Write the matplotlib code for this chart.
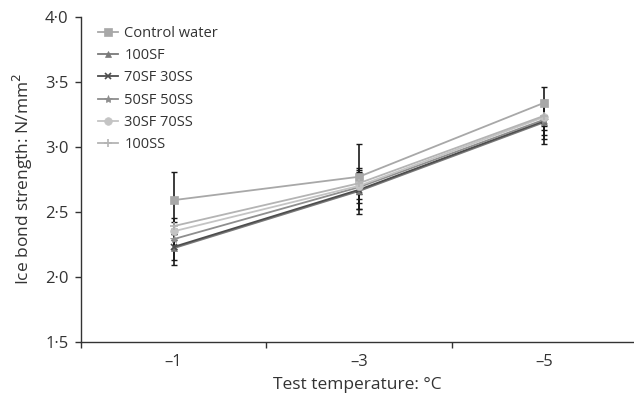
import matplotlib
matplotlib.use("Agg")
import matplotlib.pyplot as plt
import numpy as np

plt.rcParams['font.family'] = ['Open Sans', 'DejaVu Sans']

temps = ['–1', '–3', '–5']
series_names = ['Control water', '100SF', '70SF 30SS', '50SF 50SS', '30SF 70SS', '100SS']
control = [2.59, 2.77, 3.34]
sf100 = [2.22, 2.66, 3.19]
sf70ss30 = [2.23, 2.67, 3.20]
sf50ss50 = [2.29, 2.69, 3.21]
sf30ss70 = [2.35, 2.70, 3.23]
ss100 = [2.39, 2.72, 3.24]
err_control = [0.22, 0.25, 0.12]
err_sf100 = [0.13, 0.18, 0.17]
err_sf70ss30 = [0.10, 0.15, 0.14]
err_sf50ss50 = [0.08, 0.12, 0.12]
err_sf30ss70 = [0.07, 0.10, 0.10]
err_ss100 = [0.06, 0.08, 0.08]
yticks = [1.5, 2.0, 2.5, 3.0, 3.5, 4.0]

values = [control, sf100, sf70ss30, sf50ss50, sf30ss70, ss100]
errors = [err_control, err_sf100, err_sf70ss30, err_sf50ss50, err_sf30ss70, err_ss100]
colors = ['#a8a8a8', '#7a7a7a', '#4d4d4d', '#8e8e8e', '#c4c4c4', '#b4b4b4']
markers = ['s', '^', 'x', '*', 'o', '+']
msizes = [5.5, 5, 5, 6, 5.5, 6]

fig = plt.figure(figsize=(6.34, 4.03), dpi=100)
ax = fig.add_axes([81/634, (403-341.7)/403, (634-81)/634, (341.7-17)/403])

x = np.arange(len(temps))
for vals, errs in zip(values, errors):
    ax.errorbar(x, vals, yerr=errs, fmt='none', ecolor='#1a1a1a', elinewidth=1.2,
                capsize=2, capthick=1, zorder=2)
for vals, c, m, ms, name in zip(values, colors, markers, msizes, series_names):
    ax.plot(x, vals, color=c, marker=m, markersize=ms, linewidth=1.3,
            markeredgewidth=1.2 if m in ('x', '+') else 0.5, markeredgecolor=c,
            label=name, zorder=3)

ax.set_xlim(-0.5, 2.5 - 3/185.5)
ax.set_ylim(1.5, 4.0)
ax.set_yticks(yticks)
ax.set_yticklabels([f"{v:.1f}".replace('.', '·') for v in yticks])
ax.set_xticks(x)
ax.set_xticklabels(temps)
ax.set_xticks([-0.5, 0.5, 1.5], minor=True)
ax.tick_params(axis='x', which='major', length=0, pad=9, labelsize=12, labelcolor='#333333')
ax.tick_params(axis='x', which='minor', length=4, width=1, color='#333333', direction='out')
ax.tick_params(axis='y', length=4, width=1, color='#333333', direction='out', labelsize=12,
               labelcolor='#333333', pad=5)

for s in ['top', 'right']:
    ax.spines[s].set_visible(False)
for s in ['left', 'bottom']:
    ax.spines[s].set_color('#333333')
    ax.spines[s].set_linewidth(1.0)

ax.set_xlabel('Test temperature: °C', fontsize=12.5, color='#333333', labelpad=5)
ax.set_ylabel('Ice bond strength: N/mm$^2$', fontsize=12.5, color='#333333', labelpad=7)

leg = ax.legend(loc='upper left', bbox_to_anchor=(0.015, 1.0), frameon=False, fontsize=10.5,
                handlelength=1.4, handletextpad=0.4, labelspacing=0.5, borderaxespad=0.2)
for t in leg.get_texts():
    t.set_color('#333333')

fig.savefig('out.png', dpi=100)
